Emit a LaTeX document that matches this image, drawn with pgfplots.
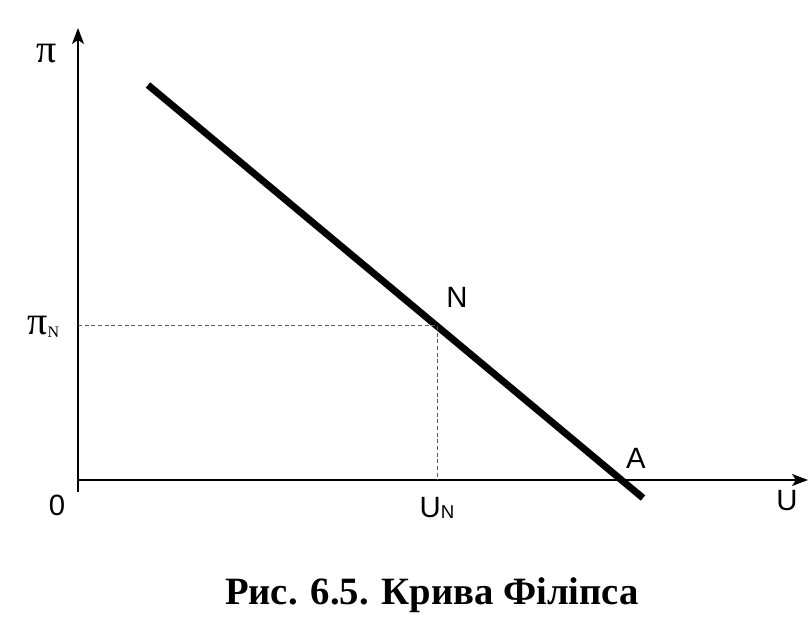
\documentclass[border=0pt]{standalone}
\usepackage{fontspec}
\setmainfont{Liberation Sans}
\newfontfamily\seriffont{Liberation Serif}
\usepackage{pgfplots}
\pgfplotsset{compat=1.18}
\usetikzlibrary{arrows.meta}
\begin{document}
\begin{tikzpicture}
\begin{axis}[
  x=0.75pt, y=0.75pt,
  xmin=0, xmax=730, ymin=-12, ymax=452,
  axis lines=middle,
  axis line style={line width=1.4pt, -{Stealth[length=12pt,width=9pt,inset=3pt]}},
  ticks=none,
  clip=false,
]
\addplot[line width=5.2pt, black] coordinates {(70,395) (565,-18)};
\addplot[densely dashed, gray!70!black, line width=0.6pt] coordinates {(0,155) (359,155) (359,0)};
\node[font=\fontsize{30}{33}\selectfont\seriffont] at (axis cs:-31,426) {π};
\node[anchor=east] at (axis cs:-14,153) {{\fontsize{30}{33}\selectfont\seriffont π}{\fontsize{12}{13}\selectfont\seriffont\raisebox{-2pt}{N}}};
\node[font=\fontsize{22}{26}\selectfont] at (axis cs:-21,-25) {0};
\node[font=\fontsize{22}{26}\selectfont] at (axis cs:359,-28) {U\raisebox{-1pt}{\fontsize{14}{15}\selectfont N}};
\node[font=\fontsize{22}{26}\selectfont] at (axis cs:379,183) {N};
\node[font=\fontsize{22}{26}\selectfont] at (axis cs:558,22) {A};
\node[font=\fontsize{22}{26}\selectfont] at (axis cs:709,-21) {U};
\node[anchor=base, font=\fontsize{29}{32}\selectfont\seriffont\bfseries] at (axis cs:354,-125) {Рис. 6.5. Крива Філіпса};
\coordinate (bl) at (axis cs:-78,-137);
\coordinate (tr) at (axis cs:733,480);
\end{axis}
\pgfresetboundingbox
\path (bl) rectangle (tr);
\end{tikzpicture}
\end{document}
